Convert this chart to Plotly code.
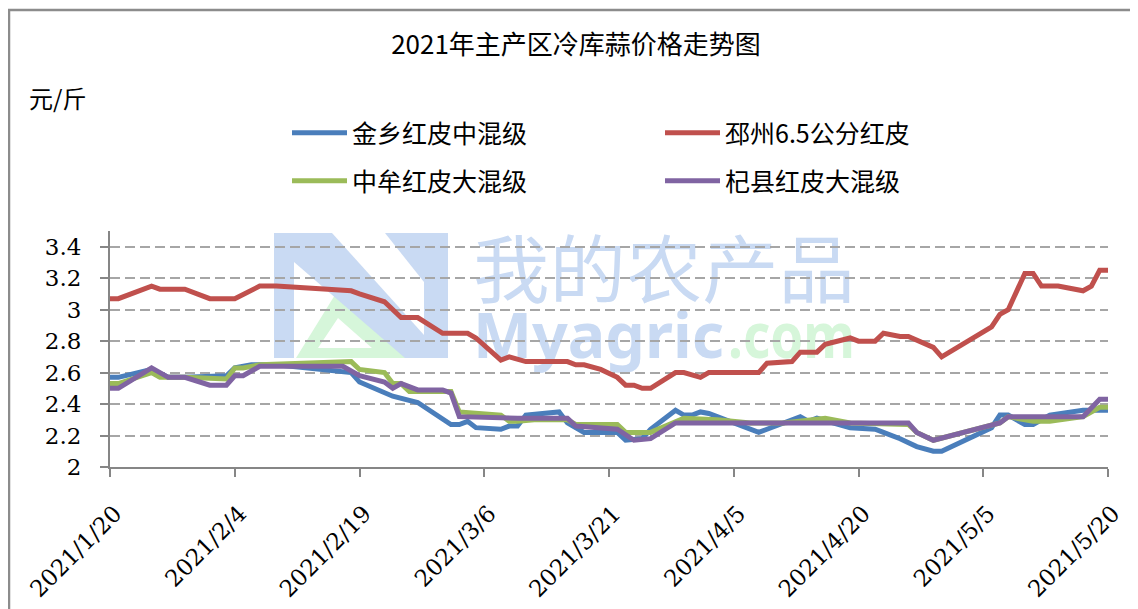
import base64
import plotly.graph_objects as go

# ---------------- data ----------------
title_text = "2021年主产区冷库蒜价格走势图"
unit_text = "元/斤"

x_tick_dates = ["2021-01-20", "2021-02-04", "2021-02-19", "2021-03-06", "2021-03-21",
                "2021-04-05", "2021-04-20", "2021-05-05", "2021-05-20"]
x_tick_text = ["2021/1/20", "2021/2/4", "2021/2/19", "2021/3/6", "2021/3/21",
               "2021/4/5", "2021/4/20", "2021/5/5", "2021/5/20"]
y_tick_vals = [2, 2.2, 2.4, 2.6, 2.8, 3, 3.2, 3.4]
y_tick_text = ["2", "2.2", "2.4", "2.6", "2.8", "3", "3.2", "3.4"]

jinxiang_name = "金乡红皮中混级"
jinxiang_dates = ["2021-01-20", "2021-01-21", "2021-01-25", "2021-01-27", "2021-01-29", "2021-02-01",
                  "2021-02-03", "2021-02-04", "2021-02-06", "2021-02-09", "2021-02-15", "2021-02-18",
                  "2021-02-19", "2021-02-23", "2021-02-26", "2021-03-01", "2021-03-02", "2021-03-03",
                  "2021-03-04", "2021-03-05", "2021-03-08", "2021-03-09", "2021-03-10", "2021-03-11",
                  "2021-03-15", "2021-03-16", "2021-03-18", "2021-03-22", "2021-03-23", "2021-03-25",
                  "2021-03-26", "2021-03-29", "2021-03-30", "2021-03-31", "2021-04-01", "2021-04-02",
                  "2021-04-05", "2021-04-08", "2021-04-09", "2021-04-13", "2021-04-14", "2021-04-15",
                  "2021-04-19", "2021-04-22", "2021-04-23", "2021-04-25", "2021-04-27", "2021-04-29",
                  "2021-04-30", "2021-05-06", "2021-05-07", "2021-05-08", "2021-05-10", "2021-05-11",
                  "2021-05-13", "2021-05-17", "2021-05-20"]
jinxiang_vals = [2.57, 2.57, 2.62, 2.57, 2.57, 2.58,
                 2.58, 2.63, 2.65, 2.65, 2.62, 2.60,
                 2.54, 2.45, 2.41, 2.30, 2.27, 2.27,
                 2.29, 2.25, 2.24, 2.26, 2.26, 2.33,
                 2.35, 2.28, 2.22, 2.22, 2.17, 2.18,
                 2.24, 2.36, 2.33, 2.33, 2.35, 2.34,
                 2.28, 2.22, 2.24, 2.32, 2.29, 2.31,
                 2.25, 2.24, 2.22, 2.18, 2.13, 2.10,
                 2.10, 2.25, 2.33, 2.33, 2.27, 2.27,
                 2.33, 2.36, 2.36]

pizhou_name = "邳州6.5公分红皮"
pizhou_dates = ["2021-01-20", "2021-01-21", "2021-01-25", "2021-01-26", "2021-01-29", "2021-02-01",
                "2021-02-04", "2021-02-07", "2021-02-09", "2021-02-18", "2021-02-19", "2021-02-22",
                "2021-02-24", "2021-02-26", "2021-03-01", "2021-03-04", "2021-03-05", "2021-03-08",
                "2021-03-09", "2021-03-11", "2021-03-16", "2021-03-17", "2021-03-18", "2021-03-20",
                "2021-03-22", "2021-03-23", "2021-03-24", "2021-03-25", "2021-03-26", "2021-03-29",
                "2021-03-30", "2021-04-01", "2021-04-02", "2021-04-08", "2021-04-09", "2021-04-12",
                "2021-04-13", "2021-04-15", "2021-04-16", "2021-04-19", "2021-04-20", "2021-04-22",
                "2021-04-23", "2021-04-25", "2021-04-26", "2021-04-29", "2021-04-30", "2021-05-06",
                "2021-05-07", "2021-05-08", "2021-05-10", "2021-05-11", "2021-05-12", "2021-05-14",
                "2021-05-17", "2021-05-18", "2021-05-19", "2021-05-20"]
pizhou_vals = [3.07, 3.07, 3.15, 3.13, 3.13, 3.07,
               3.07, 3.15, 3.15, 3.12, 3.10, 3.05,
               2.95, 2.95, 2.85, 2.85, 2.82, 2.68,
               2.70, 2.67, 2.67, 2.65, 2.65, 2.62,
               2.57, 2.52, 2.52, 2.50, 2.50, 2.60,
               2.60, 2.57, 2.60, 2.60, 2.66, 2.67,
               2.73, 2.73, 2.78, 2.82, 2.80, 2.80,
               2.85, 2.83, 2.83, 2.76, 2.70, 2.89,
               2.97, 3.00, 3.23, 3.23, 3.15, 3.15,
               3.12, 3.15, 3.25, 3.25]

zhongmou_name = "中牟红皮大混级"
zhongmou_dates = ["2021-01-20", "2021-01-21", "2021-01-25", "2021-01-26", "2021-01-29", "2021-02-01",
                  "2021-02-03", "2021-02-04", "2021-02-05", "2021-02-07", "2021-02-18", "2021-02-19",
                  "2021-02-22", "2021-02-23", "2021-02-24", "2021-02-25", "2021-03-02", "2021-03-03",
                  "2021-03-08", "2021-03-09", "2021-03-10", "2021-03-12", "2021-03-16", "2021-03-17",
                  "2021-03-22", "2021-03-23", "2021-03-26", "2021-03-30", "2021-04-03", "2021-04-07",
                  "2021-04-11", "2021-04-16", "2021-04-19", "2021-04-26", "2021-04-27", "2021-04-29",
                  "2021-05-07", "2021-05-08", "2021-05-11", "2021-05-13", "2021-05-17", "2021-05-19",
                  "2021-05-20"]
zhongmou_vals = [2.53, 2.53, 2.60, 2.57, 2.57, 2.56,
                 2.56, 2.63, 2.63, 2.65, 2.67, 2.62,
                 2.60, 2.53, 2.53, 2.48, 2.48, 2.35,
                 2.33, 2.29, 2.29, 2.30, 2.30, 2.27,
                 2.27, 2.22, 2.22, 2.31, 2.30, 2.28,
                 2.28, 2.31, 2.28, 2.27, 2.22, 2.17,
                 2.28, 2.32, 2.29, 2.29, 2.32, 2.38,
                 2.38]

qixian_name = "杞县红皮大混级"
qixian_dates = ["2021-01-20", "2021-01-21", "2021-01-25", "2021-01-27", "2021-01-29", "2021-02-01",
                "2021-02-03", "2021-02-04", "2021-02-05", "2021-02-07", "2021-02-17", "2021-02-19",
                "2021-02-22", "2021-02-23", "2021-02-24", "2021-02-26", "2021-03-01", "2021-03-02",
                "2021-03-03", "2021-03-10", "2021-03-16", "2021-03-17", "2021-03-22", "2021-03-24",
                "2021-03-26", "2021-03-29", "2021-04-26", "2021-04-27", "2021-04-29", "2021-05-07",
                "2021-05-08", "2021-05-17", "2021-05-19", "2021-05-20"]
qixian_vals = [2.50, 2.50, 2.63, 2.57, 2.57, 2.52,
               2.52, 2.58, 2.58, 2.64, 2.64, 2.58,
               2.54, 2.50, 2.53, 2.49, 2.49, 2.47,
               2.32, 2.31, 2.31, 2.26, 2.24, 2.17,
               2.18, 2.28, 2.28, 2.22, 2.17, 2.28,
               2.32, 2.32, 2.43, 2.43]

series_colors = ["#4a7ebb", "#c0504d", "#9bbb59", "#8064a2"]

# ---------------- figure ----------------
# the page body has an 8px margin, so the figure is 8px smaller than the window
OFF = 8
W, H = 1138 - OFF, 609 - OFF
L, R, T, B = 110 - OFF, 30, 231 - OFF, 142
PW, PH = W - L - R, H - T - B


def px_x(x):  # window pixel -> paper
    return (x - OFF - L) / PW


def px_y(y):
    return (H - B - (y - OFF)) / PH


fig = go.Figure()
series = [
    (jinxiang_name, jinxiang_dates, jinxiang_vals, series_colors[0], "legend"),
    (pizhou_name, pizhou_dates, pizhou_vals, series_colors[1], "legend"),
    (zhongmou_name, zhongmou_dates, zhongmou_vals, series_colors[2], "legend2"),
    (qixian_name, qixian_dates, qixian_vals, series_colors[3], "legend2"),
]
for name, xs, ys, col, lg in series:
    fig.add_trace(go.Scatter(x=xs, y=ys, name=name, mode="lines",
                             line=dict(color=col, width=5), legend=lg))

# watermark as an SVG image behind the grid
wm_x0, wm_y0, wm_w, wm_h = 268, 230, 592, 182
blue_wm = "#c9daf3"
green_wm = "#d6f6da"


def lp(pts):
    return " ".join(f"{x - wm_x0},{y - wm_y0}" for x, y in pts)


svg = f'''<svg xmlns="http://www.w3.org/2000/svg" width="{wm_w}" height="{wm_h}" viewBox="0 0 {wm_w} {wm_h}">
<path fill-rule="evenodd" fill="{green_wm}" d="M {lp([(296,358)])} L {lp([(338,290)])} L {lp([(412,358)])} Z M {lp([(318,348)])} L {lp([(338,318)])} L {lp([(372,348)])} Z"/>
<polygon fill="{blue_wm}" points="{lp([(274,233),(294,233),(294,358),(274,358)])}"/>
<polygon fill="{blue_wm}" points="{lp([(294,233),(332,233),(424,335),(424,358),(405,358),(294,262)])}"/>
<polygon fill="{blue_wm}" points="{lp([(424,233),(448,233),(448,358),(424,358)])}"/>
<polygon fill="{blue_wm}" points="{lp([(385,233),(424,233),(424,282)])}"/>
<text x="{473 - wm_x0}" y="{297 - wm_y0}" font-family="Noto Sans CJK SC" font-size="74" fill="{blue_wm}" textLength="382" lengthAdjust="spacingAndGlyphs">我的农产品</text>
<text x="{473 - wm_x0}" y="{358 - wm_y0}" font-family="Noto Sans" font-weight="bold" font-size="62" fill="{blue_wm}" textLength="251" lengthAdjust="spacingAndGlyphs">Myagric</text>
<text x="{728 - wm_x0}" y="{358 - wm_y0}" font-family="Noto Sans" font-weight="bold" font-size="62" fill="{green_wm}" textLength="127" lengthAdjust="spacingAndGlyphs">.com</text>
</svg>'''
svg_uri = "data:image/svg+xml;base64," + base64.b64encode(svg.encode("utf-8")).decode("ascii")

fig.add_layout_image(dict(source=svg_uri, xref="paper", yref="paper",
                          x=px_x(wm_x0), y=px_y(wm_y0), sizex=wm_w / PW, sizey=wm_h / PH,
                          xanchor="left", yanchor="top", sizing="stretch", layer="below"))

# outer frame
fig.add_shape(type="rect", xref="paper", yref="paper",
              x0=px_x(9), x1=px_x(1160), y0=px_y(640), y1=px_y(10),
              line=dict(color="#8c8c8c", width=2.5), fillcolor="rgba(0,0,0,0)", layer="below")

cjk = "Noto Sans CJK SC"
serif = "DejaVu Serif"
grey = "#868686"

fig.update_layout(
    width=W, height=H,
    margin=dict(l=L, r=R, t=T, b=B, pad=0, autoexpand=False),
    paper_bgcolor="white", plot_bgcolor="white",
    title=dict(text=title_text, x=(576 - OFF) / W, xanchor="center", y=1 - (45 - OFF) / H,
               yanchor="middle", yref="container", font=dict(family=cjk, size=26, color="black")),
    xaxis=dict(type="date", range=[x_tick_dates[0], x_tick_dates[-1]], tickmode="array",
               tickvals=x_tick_dates, ticktext=x_tick_text, tickangle=-45, automargin=False,
               showgrid=False, zeroline=False, showline=True, linecolor=grey, linewidth=2,
               ticks="outside", ticklen=8, tickwidth=2, tickcolor=grey,
               ticklabelstandoff=14, ticklabelshift=5,
               tickfont=dict(family=serif, size=23, color="black")),
    yaxis=dict(range=[2, 3.5], tickmode="array", tickvals=y_tick_vals, ticktext=y_tick_text,
               automargin=False,
               showgrid=True, gridcolor="#a6a6a6", gridwidth=2, griddash="10px,5px",
               zeroline=False, showline=True, linecolor=grey, linewidth=2,
               ticks="outside", ticklen=8, tickwidth=2, tickcolor=grey, ticklabelstandoff=14,
               tickfont=dict(family=serif, size=23, color="black")),
    legend=dict(orientation="h", x=px_x(287), y=px_y(133), xanchor="left", yanchor="middle",
                itemwidth=55, entrywidth=303, entrywidthmode="pixels", bgcolor="rgba(0,0,0,0)",
                font=dict(family=cjk, size=25, color="black")),
    legend2=dict(orientation="h", x=px_x(287), y=px_y(181), xanchor="left", yanchor="middle",
                 itemwidth=55, entrywidth=303, entrywidthmode="pixels", bgcolor="rgba(0,0,0,0)",
                 font=dict(family=cjk, size=25, color="black")),
    annotations=[dict(text=unit_text, xref="paper", yref="paper", x=px_x(27), y=px_y(97),
                      xanchor="left", yanchor="middle", showarrow=False,
                      font=dict(family=cjk, size=24, color="black"))],
)

fig.write_html("out.html")
